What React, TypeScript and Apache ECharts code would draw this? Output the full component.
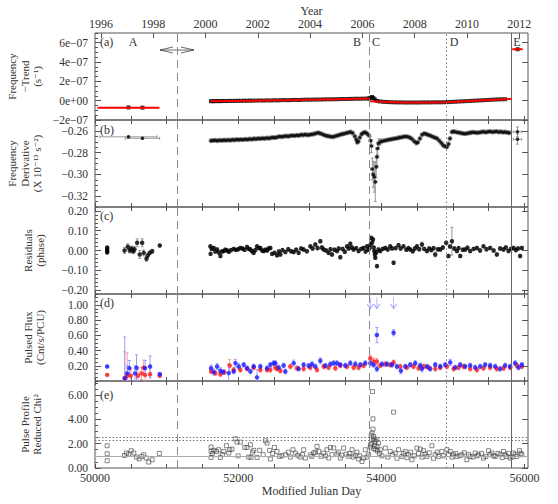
import React, { useEffect, useRef } from 'react';
import * as echarts from 'echarts';

// ---------- axis values ----------
const MJD_MIN = 50000;
const MJD_MAX = 56050;
const X_LABELS = [50000, 52000, 54000, 56000];
const YEAR_LABELS = [1996, 1998, 2000, 2002, 2004, 2006, 2008, 2010, 2012];

// vertical reference lines (MJD)
const VLINE_DASHED = [51152, 53838];
const VLINE_DOTTED = [54913];
const VLINE_SOLID = [55821];

// ---------- panel (a): frequency - trend (units 1e-7 s^-1) [mjd, value, xerr] ----------
const A_PTS = [
  [50468, -0.70, 400], [50663, -0.72, 240],
  [51620, -0.05, 15], [51650, -0.06, 15], [51680, -0.05, 15], [51710, -0.04, 15], [51740, -0.05, 15],
  [51770, -0.04, 15], [51800, -0.03, 15], [51840, -0.04, 15], [51880, -0.02, 15], [51920, -0.03, 15],
  [51960, -0.02, 15], [52000, -0.01, 15], [52040, -0.02, 15], [52080, 0.0, 15], [52120, -0.01, 15],
  [52160, 0.01, 15], [52200, 0.0, 15], [52250, 0.01, 15], [52300, 0.02, 15], [52350, 0.01, 15],
  [52400, 0.03, 15], [52450, 0.02, 15], [52500, 0.04, 15], [52550, 0.03, 15], [52600, 0.05, 15],
  [52650, 0.06, 15], [52700, 0.05, 15], [52750, 0.07, 15], [52800, 0.08, 15], [52850, 0.07, 15],
  [52900, 0.09, 15], [52950, 0.10, 15], [53000, 0.10, 15], [53050, 0.11, 15], [53100, 0.12, 15],
  [53150, 0.12, 15], [53200, 0.13, 15], [53250, 0.14, 15], [53300, 0.14, 15], [53350, 0.15, 15],
  [53400, 0.16, 15], [53450, 0.17, 15], [53500, 0.17, 15], [53550, 0.18, 15], [53600, 0.19, 15],
  [53650, 0.20, 15], [53700, 0.20, 15], [53750, 0.21, 15], [53800, 0.22, 15], [53830, 0.22, 15],
  [53850, 0.30, 10], [53870, 0.38, 10], [53890, 0.28, 10], [53910, 0.12, 10], [53940, -0.02, 10],
  [53980, -0.08, 15], [54030, -0.12, 15], [54080, -0.14, 15], [54130, -0.16, 15], [54180, -0.17, 15],
  [54230, -0.18, 15], [54280, -0.18, 15], [54330, -0.19, 15], [54380, -0.19, 15], [54430, -0.19, 15],
  [54480, -0.19, 15], [54530, -0.19, 15], [54580, -0.18, 15], [54630, -0.18, 15], [54680, -0.18, 15],
  [54730, -0.17, 15], [54780, -0.17, 15], [54830, -0.17, 15], [54880, -0.16, 15], [54930, -0.15, 15],
  [54980, -0.13, 15], [55030, -0.11, 15], [55080, -0.09, 15], [55130, -0.07, 15], [55180, -0.05, 15],
  [55230, -0.03, 15], [55280, -0.01, 15], [55330, 0.01, 15], [55380, 0.03, 15], [55430, 0.05, 15],
  [55480, 0.07, 15], [55530, 0.09, 15], [55580, 0.11, 15], [55630, 0.13, 15], [55680, 0.14, 15],
  [55730, 0.15, 15],
  [55905, 5.32, 60],
];
const A_MODEL = [
  [[50035, -0.72], [50900, -0.72]],
  [[51612, -0.06], [52200, 0.0], [52800, 0.07], [53400, 0.15], [53836, 0.22]],
  [[53845, -0.06], [54000, -0.12], [54300, -0.18], [54700, -0.18], [54913, -0.16], [55300, 0.0], [55816, 0.18]],
  [[55830, 5.32], [55975, 5.32]],
];

// ---------- panel (b): frequency derivative (1e-13 s^-2) [mjd, value, yerr, xerr] ----------
const B_PTS = [
  [50468, -0.2655, 0.0008, 400], [50663, -0.2668, 0.0008, 240],
  [51620, -0.2690], [51650, -0.2688], [51680, -0.2687], [51710, -0.2690], [51740, -0.2686], [51770, -0.2688],
  [51800, -0.2685], [51830, -0.2687], [51860, -0.2684], [51890, -0.2686], [51920, -0.2682], [51950, -0.2684],
  [51980, -0.2680], [52010, -0.2682], [52040, -0.2679], [52070, -0.2681], [52100, -0.2677], [52130, -0.2679],
  [52160, -0.2675], [52190, -0.2677], [52220, -0.2672], [52250, -0.2674], [52280, -0.2670], [52310, -0.2672],
  [52340, -0.2668], [52370, -0.2670], [52400, -0.2666], [52430, -0.2668], [52460, -0.2663], [52490, -0.2660],
  [52520, -0.2662], [52550, -0.2656], [52580, -0.2652], [52610, -0.2655], [52640, -0.2650], [52670, -0.2648],
  [52700, -0.2650], [52730, -0.2645], [52760, -0.2642], [52790, -0.2645], [52820, -0.2640], [52850, -0.2642],
  [52880, -0.2636], [52910, -0.2638], [52940, -0.2634], [52970, -0.2638], [53000, -0.2635], [53030, -0.2632],
  [53060, -0.2628], [53090, -0.2622], [53120, -0.2618], [53150, -0.2624], [53180, -0.2632], [53210, -0.2640],
  [53240, -0.2646], [53270, -0.2650], [53300, -0.2654], [53330, -0.2655], [53360, -0.2648], [53390, -0.2642],
  [53420, -0.2636], [53450, -0.2630], [53480, -0.2626], [53510, -0.2620], [53540, -0.2615], [53570, -0.2610],
  [53600, -0.2620], [53630, -0.2650], [53650, -0.2680], [53665, -0.2705], [53680, -0.2695], [53700, -0.2660],
  [53725, -0.2630], [53750, -0.2618], [53775, -0.2612], [53800, -0.2625], [53825, -0.2640],
  [53850, -0.2690, 0.004], [53862, -0.2740, 0.006], [53875, -0.2950, 0.010], [53888, -0.3000, 0.012],
  [53902, -0.3023, 0.014], [53916, -0.3069, 0.018], [53930, -0.2931, 0.010], [53940, -0.2839, 0.008],
  [53948, -0.2762, 0.006], [53962, -0.2716, 0.004], [53986, -0.2701, 0.003],
  [54010, -0.2695], [54040, -0.2690], [54070, -0.2686], [54100, -0.2682], [54130, -0.2678], [54160, -0.2674],
  [54190, -0.2670], [54220, -0.2667], [54250, -0.2662], [54280, -0.2658], [54310, -0.2655], [54340, -0.2652],
  [54370, -0.2655], [54400, -0.2662], [54430, -0.2675], [54460, -0.2695], [54490, -0.2712], [54510, -0.2705],
  [54540, -0.2670], [54570, -0.2635], [54600, -0.2625], [54630, -0.2630], [54660, -0.2638], [54690, -0.2645],
  [54720, -0.2655], [54750, -0.2662], [54780, -0.2670], [54810, -0.2690], [54840, -0.2712], [54865, -0.2732],
  [54890, -0.2742], [54917, -0.2747], [54940, -0.2720], [54960, -0.2670], [54987, -0.2610], [55010, -0.2605],
  [55040, -0.2610], [55070, -0.2614], [55100, -0.2618], [55130, -0.2622], [55160, -0.2626], [55190, -0.2624],
  [55220, -0.2620], [55250, -0.2616], [55280, -0.2612], [55310, -0.2614], [55340, -0.2618], [55370, -0.2614],
  [55400, -0.2610], [55430, -0.2608], [55460, -0.2612], [55490, -0.2608], [55520, -0.2605], [55550, -0.2610],
  [55580, -0.2608], [55610, -0.2605], [55640, -0.2610], [55670, -0.2608], [55700, -0.2612], [55730, -0.2610],
  [55760, -0.2615], [55790, -0.2618],
  [55903, -0.2609, 0.0045, 60], [55903, -0.2677, 0.0045, 60],
];
const B_DEFAULT_YERR = 0.0018;
const B_DEFAULT_XERR = 25;

// ---------- panel (c): residuals (phase) [mjd, value, err] ----------
const C_PTS = [
  [50170, 0.015, 0.004], [50170, 0.006, 0.004], [50170, -0.003, 0.004], [50170, -0.010, 0.004],
  [50412, 0.000, 0.015], [50458, 0.019, 0.015], [50486, 0.000, 0.012], [50510, 0.010, 0.012],
  [50533, -0.004, 0.012], [50551, 0.006, 0.015], [50589, 0.039, 0.02], [50625, -0.020, 0.02],
  [50659, 0.039, 0.02], [50681, -0.012, 0.015], [50719, -0.042, 0.012], [50737, -0.025, 0.012],
  [50765, -0.012, 0.01], [50799, -0.004, 0.01], [50905, 0.025, 0.006],
  [51612, 0.021], [51615, -0.017], [51630, 0.008], [51659, 0.013], [51680, -0.005], [51706, 0.005],
  [51730, -0.010], [51752, -0.028], [51775, -0.005], [51798, -0.003], [51820, 0.004], [51846, 0.000],
  [51870, -0.006], [51900, 0.002], [51938, 0.008], [51970, 0.003], [52000, 0.006], [52031, 0.013],
  [52060, 0.010], [52090, 0.004], [52125, 0.018], [52150, 0.008], [52171, 0.005], [52195, -0.004],
  [52217, -0.012], [52240, 0.002], [52264, 0.021], [52290, 0.012], [52310, 0.013], [52335, 0.000],
  [52357, -0.003], [52380, 0.004], [52404, 0.000], [52425, 0.010], [52450, 0.013], [52474, -0.017],
  [52510, -0.012], [52544, -0.024], [52570, -0.005], [52590, -0.020], [52620, 0.002], [52660, -0.008],
  [52700, 0.006], [52740, -0.004], [52776, -0.008], [52810, 0.004], [52845, -0.012], [52880, 0.010],
  [52915, 0.005], [52960, -0.004], [53009, 0.021], [53040, 0.010], [53078, 0.030], [53110, 0.012],
  [53148, 0.047], [53170, 0.015], [53194, 0.005], [53230, 0.000], [53264, -0.012], [53290, 0.006],
  [53311, -0.020], [53345, 0.004], [53381, -0.003], [53405, 0.010], [53427, -0.034], [53460, 0.008],
  [53490, -0.006], [53521, 0.021], [53545, 0.010], [53567, 0.034], [53590, 0.015], [53613, 0.005],
  [53650, 0.012], [53683, -0.003], [53720, 0.008], [53753, 0.013], [53780, -0.005], [53800, 0.021],
  [53820, 0.004], [53836, 0.013], [53850, 0.030], [53860, 0.064], [53872, 0.040], [53884, 0.056],
  [53895, 0.015], [53902, -0.003], [53910, -0.020, 0.02], [53916, -0.037], [53930, -0.010], [53940, -0.079],
  [53960, 0.005], [53986, -0.003], [54020, 0.008], [54056, 0.013], [54090, 0.005], [54125, 0.021],
  [54150, 0.010], [54172, -0.062], [54200, 0.012], [54241, 0.027], [54270, 0.010], [54311, 0.021],
  [54350, 0.004], [54380, 0.012], [54405, 0.005], [54440, -0.004], [54470, 0.010], [54498, 0.021],
  [54530, 0.006], [54568, 0.030, 0.012], [54600, 0.008], [54638, -0.003], [54670, 0.010], [54700, 0.002],
  [54730, 0.012], [54754, -0.020, 0.012], [54790, 0.006], [54823, 0.005], [54860, 0.015], [54907, 0.039],
  [54939, -0.028], [54960, 0.020], [54987, 0.047, 0.07], [55020, 0.010], [55057, -0.003], [55080, 0.012],
  [55103, -0.028], [55140, 0.004], [55172, 0.005], [55205, 0.014], [55242, -0.003], [55290, 0.008],
  [55336, 0.013], [55380, 0.000], [55428, 0.021], [55470, 0.006], [55521, 0.013], [55570, 0.000],
  [55615, -0.020], [55660, 0.010], [55707, 0.005], [55740, 0.015], [55777, -0.003], [55810, 0.008],
  [55847, 0.013], [55880, 0.002], [55910, 0.010], [55940, -0.028], [55964, 0.013],
];
const C_DEFAULT_ERR = 0.008;

// ---------- panel (d): pulsed flux [mjd, value, err] ----------
const D_BLUE = [
  [50170, 0.19, 0.01], [50416, 0.04, 0.54], [50450, 0.10, 0.10], [50480, 0.17, 0.10], [50560, 0.10, 0.10],
  [50580, 0.175, 0.17], [50700, 0.17, 0.10], [50770, 0.19, 0.14], [50905, 0.09, 0.02],
  [51622, 0.169, 0.04], [51659, 0.117, 0.04], [51706, 0.191, 0.04], [51752, 0.134, 0.04], [51790, 0.117, 0.03],
  [51868, 0.104, 0.12], [51938, 0.126, 0.03], [51962, 0.235, 0.05], [52008, 0.191, 0.04], [52078, 0.213, 0.03],
  [52125, 0.169, 0.03], [52171, 0.126, 0.03], [52217, 0.191, 0.03], [52264, 0.048, 0.10], [52310, 0.191, 0.03],
  [52404, 0.169, 0.03], [52450, 0.213, 0.03], [52497, 0.235, 0.03], [52520, 0.235, 0.03], [52566, 0.178, 0.03],
  [52636, 0.204, 0.03], [52659, 0.125, 0.03], [52776, 0.235, 0.04], [52846, 0.16, 0.03], [52915, 0.213, 0.03],
  [52985, 0.20, 0.03], [53032, 0.222, 0.03], [53078, 0.191, 0.03], [53148, 0.266, 0.04], [53218, 0.20, 0.03],
  [53288, 0.222, 0.03], [53334, 0.235, 0.03], [53381, 0.235, 0.03], [53427, 0.213, 0.03], [53497, 0.204, 0.03],
  [53567, 0.235, 0.03], [53637, 0.222, 0.03], [53707, 0.213, 0.03], [53776, 0.235, 0.03], [53846, 0.235, 0.04],
  [53893, 0.213, 0.03], [53939, 0.16, 0.04], [53939, 0.605, 0.10], [54009, 0.222, 0.03], [54079, 0.222, 0.03],
  [54149, 0.213, 0.03], [54172, 0.635, 0.04], [54219, 0.191, 0.03], [54274, 0.134, 0.04], [54335, 0.191, 0.03],
  [54405, 0.213, 0.03], [54474, 0.235, 0.03], [54544, 0.204, 0.03], [54568, 0.16, 0.04], [54637, 0.191, 0.03],
  [54684, 0.16, 0.03], [54754, 0.213, 0.03], [54824, 0.191, 0.03], [54893, 0.213, 0.03], [54963, 0.245, 0.04],
  [55033, 0.178, 0.03], [55103, 0.213, 0.03], [55173, 0.191, 0.03], [55242, 0.204, 0.03], [55312, 0.178, 0.03],
  [55382, 0.191, 0.03], [55452, 0.213, 0.03], [55521, 0.204, 0.03], [55592, 0.191, 0.03], [55661, 0.16, 0.03],
  [55731, 0.204, 0.03], [55801, 0.191, 0.03], [55870, 0.235, 0.03], [55917, 0.178, 0.03], [55964, 0.213, 0.03],
];
const D_RED = [
  [50170, 0.08, 0.01], [50416, 0.035, 0.35], [50450, 0.07, 0.30], [50500, 0.07, 0.10], [50600, 0.07, 0.10],
  [50650, 0.10, 0.08], [50680, 0.175, 0.10], [50700, 0.08, 0.10], [50770, 0.09, 0.10], [50905, 0.07, 0.02],
  [51622, 0.126, 0.03], [51682, 0.104, 0.03], [51752, 0.09, 0.03], [51808, 0.117, 0.03], [51882, 0.204, 0.08],
  [51938, 0.147, 0.03], [52031, 0.147, 0.03], [52125, 0.16, 0.03], [52217, 0.178, 0.03], [52310, 0.147, 0.03],
  [52404, 0.147, 0.03], [52450, 0.147, 0.03], [52520, 0.178, 0.03], [52544, 0.16, 0.03], [52590, 0.134, 0.03],
  [52729, 0.191, 0.03], [52822, 0.169, 0.03], [52915, 0.16, 0.03], [53008, 0.178, 0.03], [53102, 0.147, 0.03],
  [53195, 0.191, 0.03], [53264, 0.178, 0.03], [53358, 0.169, 0.03], [53427, 0.204, 0.03], [53520, 0.191, 0.03],
  [53614, 0.178, 0.03], [53683, 0.178, 0.03], [53753, 0.204, 0.03], [53846, 0.30, 0.04], [53893, 0.257, 0.04],
  [53939, 0.257, 0.04], [53986, 0.204, 0.03], [54056, 0.222, 0.03], [54125, 0.213, 0.03], [54172, 0.245, 0.03],
  [54265, 0.191, 0.03], [54358, 0.178, 0.03], [54451, 0.191, 0.03], [54521, 0.169, 0.03], [54591, 0.191, 0.03],
  [54661, 0.178, 0.03], [54754, 0.16, 0.03], [54824, 0.178, 0.03], [54917, 0.191, 0.03], [55010, 0.16, 0.03],
  [55080, 0.178, 0.03], [55149, 0.191, 0.03], [55242, 0.16, 0.03], [55336, 0.147, 0.03], [55429, 0.169, 0.03],
  [55521, 0.178, 0.03], [55615, 0.16, 0.03], [55708, 0.169, 0.03], [55801, 0.178, 0.03], [55894, 0.204, 0.03],
  [55964, 0.191, 0.03],
];
const D_LIMITS = [[53846, 1.0], [53939, 1.0], [54172, 1.0]];

// ---------- panel (e): pulse profile reduced chi^2 [mjd, value] ----------
const E_PTS = [
  [50170, 1.83], [50170, 1.17], [50170, 0.6], [50412, 1.03], [50440, 1.23], [50472, 1.15], [50505, 1.42],
  [50542, 1.23], [50579, 0.9], [50617, 0.76], [50653, 0.95], [50681, 1.09], [50715, 0.82], [50751, 0.49],
  [50799, 0.68], [50900, 1.2],
  [51622, 1.72], [51622, 1.36], [51622, 0.87], [51640, 1.2], [51659, 1.45], [51696, 1.36], [51729, 1.5],
  [51752, 0.87], [51780, 1.1], [51799, 1.36], [51836, 1.83], [51869, 1.23], [51883, 1.5], [51915, 1.55],
  [51962, 2.40], [51985, 2.13], [52000, 1.0], [52031, 2.13], [52092, 1.69], [52125, 1.69], [52148, 0.9],
  [52171, 1.91], [52180, 0.87], [52200, 1.3], [52218, 1.45], [52264, 0.87], [52301, 1.45], [52350, 1.1],
  [52381, 2.24], [52404, 2.05], [52441, 1.45], [52450, 0.74], [52480, 1.2], [52506, 1.69], [52543, 1.36],
  [52580, 0.95], [52613, 1.01], [52660, 1.09], [52700, 1.3], [52730, 0.90], [52767, 1.5], [52799, 1.23],
  [52832, 1.04], [52869, 0.90], [52900, 1.1], [52916, 1.5], [52939, 0.82], [53009, 1.09], [53030, 0.95],
  [53055, 1.23], [53080, 1.3], [53102, 1.77], [53125, 1.36], [53158, 0.96], [53195, 1.23], [53220, 1.0],
  [53242, 1.5], [53265, 0.82], [53288, 1.69], [53310, 1.1], [53335, 1.64], [53381, 1.14], [53400, 1.3],
  [53428, 0.82], [53450, 1.05], [53474, 1.64], [53507, 1.14], [53544, 0.96], [53560, 1.2], [53591, 1.5],
  [53610, 0.9], [53637, 1.04], [53660, 1.3], [53684, 0.74], [53700, 1.0], [53730, 0.54], [53754, 0.82],
  [53777, 1.5], [53800, 0.9], [53823, 1.09],
  [53846, 1.72], [53850, 1.9], [53860, 2.7], [53866, 2.0], [53870, 2.87], [53878, 6.28], [53884, 4.04],
  [53884, 3.2], [53888, 2.3], [53892, 2.59], [53896, 1.6], [53902, 2.4], [53908, 1.8], [53916, 2.18],
  [53922, 1.5], [53930, 2.35], [53940, 1.77], [53950, 1.4], [53962, 2.05], [53975, 1.2], [54172, 4.59],
  [53986, 1.5], [54010, 1.0], [54056, 1.64], [54090, 0.9], [54125, 1.36], [54160, 1.1], [54195, 1.23],
  [54220, 0.8], [54242, 1.5], [54288, 0.95], [54310, 1.2], [54335, 1.36], [54360, 0.85], [54381, 1.09],
  [54410, 1.3], [54428, 0.68], [54460, 1.0], [54498, 1.64], [54520, 1.2], [54544, 1.55], [54570, 0.9],
  [54591, 1.42], [54610, 1.15], [54637, 0.95], [54670, 1.25], [54707, 1.83], [54730, 0.8], [54754, 1.09],
  [54780, 1.3], [54800, 0.95], [54847, 1.36], [54870, 1.0], [54917, 1.5], [54940, 1.1], [54963, 1.36],
  [54990, 0.9], [55010, 1.09], [55040, 1.2], [55056, 0.95], [55100, 1.0], [55126, 1.09], [55160, 1.25],
  [55196, 0.68], [55220, 1.1], [55242, 0.95], [55280, 0.9], [55312, 1.23], [55340, 1.0], [55359, 1.09],
  [55400, 1.2], [55429, 0.82], [55460, 0.95], [55498, 1.42], [55520, 1.1], [55545, 1.23], [55570, 1.0],
  [55592, 0.95], [55630, 1.2], [55661, 1.09], [55690, 0.85], [55708, 1.36], [55730, 1.1], [55754, 0.95],
  [55780, 1.2], [55801, 0.82], [55830, 0.9], [55847, 1.23], [55870, 1.1], [55894, 0.95], [55931, 1.42],
  [55950, 1.2], [55964, 1.09],
];
const E_HLINE_SOLID = [1.0];
const E_HLINE_DOTTED = [2.25, 2.55];

// ---------- layout / style ----------
const FONT = '"Liberation Serif", "DejaVu Serif", serif';
const TXT = '#333';
const AX = '#555';
const GRID_TOP = [33, 120, 207, 294, 381];
const GRID_H = 87;

const minus = (s: string) => s.replace('-', '\u2212');
const intFmt = (v: number) => String(Math.round(v));

const PANELS = [
  { min: -2, max: 7, major: [-2, 0, 2, 4, 6], minorStep: 0.5,
    fmt: (v: number) => (Math.abs(v) < 1e-9 ? '0e+00' : (v < 0 ? '\u2212' : '') + Math.abs(Math.round(v)) + 'e\u221207') },
  { min: -0.33, max: -0.25, major: [-0.32, -0.30, -0.28, -0.26], minorStep: 0.005, fmt: (v: number) => minus(v.toFixed(2)) },
  { min: -0.22, max: 0.22, major: [-0.2, -0.1, 0, 0.1, 0.2], minorStep: 0.02, fmt: (v: number) => minus(v.toFixed(2)) },
  { min: 0, max: 1.145, major: [0.2, 0.4, 0.6, 0.8, 1.0], minorStep: 0.05, fmt: (v: number) => v.toFixed(2) },
  { min: 0, max: 7.15, major: [0, 2, 4, 6], minorStep: 0.5, fmt: (v: number) => v.toFixed(2) },
];

function stepValues(min: number, max: number, step: number) {
  const out: number[] = [];
  for (let k = Math.ceil(min / step - 1e-9); k <= Math.floor(max / step + 1e-9); k++) out.push(+(k * step).toFixed(6));
  return out;
}

function errSeries(data: number[][], gi: number, color: string, cap: number) {
  return {
    type: 'custom', xAxisIndex: gi, yAxisIndex: gi, clip: true, silent: true, z: 2,
    data, encode: { x: 0, y: 1 },
    renderItem: (_p: any, api: any) => {
      const x = api.value(0), y = api.value(1), ye = api.value(2), xe = api.value(3);
      const c = api.coord([x, y]);
      const ch: any[] = [];
      const st = { stroke: color, lineWidth: 1 };
      if (ye > 0) {
        const t = api.coord([x, y + ye])[1], b = api.coord([x, y - ye])[1];
        ch.push({ type: 'line', shape: { x1: c[0], y1: t, x2: c[0], y2: b }, style: st });
        if (cap > 0) {
          ch.push({ type: 'line', shape: { x1: c[0] - cap, y1: t, x2: c[0] + cap, y2: t }, style: st });
          ch.push({ type: 'line', shape: { x1: c[0] - cap, y1: b, x2: c[0] + cap, y2: b }, style: st });
        }
      }
      if (xe > 0) {
        const l = api.coord([x - xe, y])[0], r = api.coord([x + xe, y])[0];
        ch.push({ type: 'line', shape: { x1: l, y1: c[1], x2: r, y2: c[1] }, style: st });
        if (cap > 0) {
          ch.push({ type: 'line', shape: { x1: l, y1: c[1] - cap, x2: l, y2: c[1] + cap }, style: st });
          ch.push({ type: 'line', shape: { x1: r, y1: c[1] - cap, x2: r, y2: c[1] + cap }, style: st });
        }
      }
      return { type: 'group', children: ch };
    },
  };
}

function vLineData() {
  return [
    ...VLINE_DASHED.map((v) => ({ xAxis: v, lineStyle: { type: [8, 5], color: '#888', width: 1 } })),
    ...VLINE_DOTTED.map((v) => ({ xAxis: v, lineStyle: { type: [1.5, 2.5], color: '#777', width: 1 } })),
    ...VLINE_SOLID.map((v) => ({ xAxis: v, lineStyle: { type: 'solid', color: '#666', width: 1 } })),
  ];
}
function vLines() {
  return { symbol: ['none', 'none'], silent: true, label: { show: false }, data: vLineData() };
}

function buildOption() {
  const yearOf = (mjd: number) => 2000 + (mjd - 51544.5) / 365.25;
  const xTicks = stepValues(MJD_MIN, MJD_MAX, 500);
  const lbl = { fontFamily: FONT, fontSize: 12, color: TXT };
  const ylbl = { fontFamily: FONT, fontSize: 11.5, color: TXT };

  const grid = GRID_TOP.map((t) => ({ left: 95, right: 30, top: t, height: GRID_H, show: true, borderColor: AX, borderWidth: 1 }));

  const xAxis: any[] = [];
  for (let i = 0; i < 5; i++) {
    xAxis.push({
      gridIndex: i, type: 'value', position: 'bottom', min: MJD_MIN, max: MJD_MAX,
      axisLine: { show: false, onZero: false }, splitLine: { show: false },
      axisTick: { show: true, inside: true, length: 4, customValues: xTicks, lineStyle: { color: AX } },
      axisLabel: { show: i === 4, customValues: X_LABELS, margin: 4, formatter: intFmt, ...lbl },
      name: i === 4 ? 'Modified Julian Day' : '', nameLocation: 'middle', nameGap: 17,
      nameTextStyle: { ...lbl },
    });
  }
  for (let i = 0; i < 5; i++) {
    xAxis.push({
      gridIndex: i, type: 'value', position: 'top', min: MJD_MIN, max: MJD_MAX,
      axisLine: { show: false, onZero: false }, splitLine: { show: false },
      axisTick: { show: i !== 0, inside: true, length: 4, customValues: xTicks, lineStyle: { color: AX } },
      axisLabel: { show: false },
    });
  }
  xAxis.push({
    gridIndex: 0, type: 'value', position: 'top', min: yearOf(MJD_MIN), max: yearOf(MJD_MAX),
    axisLine: { show: false, onZero: false }, splitLine: { show: false },
    axisTick: { show: true, inside: true, length: 5, customValues: YEAR_LABELS, lineStyle: { color: AX } },
    axisLabel: { show: true, customValues: YEAR_LABELS, margin: 3, formatter: intFmt, ...lbl },
    name: 'Year', nameLocation: 'middle', nameGap: 16, nameTextStyle: { ...lbl },
  });

  const yAxis: any[] = [];
  PANELS.forEach((p, i) => {
    yAxis.push({
      gridIndex: i, type: 'value', position: 'left', min: p.min, max: p.max,
      axisLine: { show: false, onZero: false }, splitLine: { show: false },
      axisTick: { show: true, inside: true, length: 6, customValues: p.major, lineStyle: { color: AX } },
      axisLabel: { show: true, customValues: p.major, margin: 7, formatter: p.fmt, ...ylbl },
    });
  });
  PANELS.forEach((p, i) => {
    yAxis.push({
      gridIndex: i, type: 'value', position: 'left', min: p.min, max: p.max,
      axisLine: { show: false, onZero: false }, splitLine: { show: false },
      axisTick: { show: true, inside: true, length: 3, customValues: stepValues(p.min, p.max, p.minorStep), lineStyle: { color: AX } },
      axisLabel: { show: false },
    });
  });
  PANELS.forEach((p, i) => {
    yAxis.push({
      gridIndex: i, type: 'value', position: 'right', min: p.min, max: p.max,
      axisLine: { show: false, onZero: false }, splitLine: { show: false },
      axisTick: { show: true, inside: true, length: 6, customValues: p.major, lineStyle: { color: AX } },
      axisLabel: { show: false },
    });
  });

  const series: any[] = [];
  // (a)
  series.push(errSeries(A_PTS.map((d) => [d[0], d[1], 0, d[2]]), 0, '#aaa', 0));
  series.push({
    type: 'scatter', xAxisIndex: 0, yAxisIndex: 0, symbol: 'rect', symbolSize: 4, z: 3,
    itemStyle: { color: '#000' }, data: A_PTS.map((d) => [d[0], d[1]]), markLine: vLines(),
  });
  A_MODEL.forEach((seg) => series.push({
    type: 'line', xAxisIndex: 0, yAxisIndex: 0, showSymbol: false, z: 4,
    lineStyle: { color: '#f00', width: 2 }, data: seg,
  }));
  // (b)
  series.push(errSeries(B_PTS.map((d) => [d[0], d[1], d[2] ?? B_DEFAULT_YERR, d[3] ?? B_DEFAULT_XERR]), 1, '#999', 1.5));
  series.push({
    type: 'scatter', xAxisIndex: 1, yAxisIndex: 1, symbol: 'circle', symbolSize: 3.5, z: 3,
    itemStyle: { color: '#000' }, data: B_PTS.map((d) => [d[0], d[1]]), markLine: vLines(),
  });
  // (c)
  series.push(errSeries(C_PTS.map((d) => [d[0], d[1], d[2] ?? C_DEFAULT_ERR, 0]), 2, '#999', 1.5));
  series.push({
    type: 'scatter', xAxisIndex: 2, yAxisIndex: 2, symbol: 'circle', symbolSize: 4.5, z: 3,
    itemStyle: { color: '#000' }, data: C_PTS.map((d) => [d[0], d[1]]), markLine: vLines(),
  });
  // (d)
  series.push(errSeries(D_RED.map((d) => [d[0], d[1], d[2], 0]), 3, '#ff9c9c', 1.5));
  series.push(errSeries(D_BLUE.map((d) => [d[0], d[1], d[2], 0]), 3, '#9c9cff', 1.5));
  series.push({
    type: 'scatter', xAxisIndex: 3, yAxisIndex: 3, symbol: 'circle', symbolSize: 4.5, z: 3,
    itemStyle: { color: '#ff1a1a' }, data: D_RED.map((d) => [d[0], d[1]]), markLine: vLines(),
  });
  series.push({
    type: 'scatter', xAxisIndex: 3, yAxisIndex: 3, symbol: 'circle', symbolSize: 4.5, z: 4,
    itemStyle: { color: '#1a1aff' }, data: D_BLUE.map((d) => [d[0], d[1]]),
  });
  series.push({
    type: 'scatter', xAxisIndex: 3, yAxisIndex: 3, z: 4,
    symbol: 'path://M5 0 L5 20 M1 12 L5 20 L9 12', symbolSize: [6, 11], symbolOffset: [0, -2],
    itemStyle: { color: 'none', borderColor: '#8c8cff', borderWidth: 1 }, data: D_LIMITS,
  });
  // (e)
  series.push({
    type: 'scatter', xAxisIndex: 4, yAxisIndex: 4, symbol: 'rect', symbolSize: 4, z: 3,
    itemStyle: { color: 'none', borderColor: '#444', borderWidth: 0.8 }, data: E_PTS,
    markLine: {
      symbol: ['none', 'none'], silent: true, label: { show: false },
      data: [
        ...vLineData(),
        ...E_HLINE_SOLID.map((v) => ({ yAxis: v, lineStyle: { type: 'solid', color: '#aaa', width: 1 } })),
        ...E_HLINE_DOTTED.map((v) => ({ yAxis: v, lineStyle: { type: [1.5, 2], color: '#777', width: 1 } })),
      ],
    },
  });

  const t = (text: string, x: number, y: number, size = 12, align = 'center', rot = 0) => ({
    type: 'text', x, y, rotation: rot, silent: true,
    style: { text, fontFamily: FONT, fontSize: size, fill: TXT, align, verticalAlign: 'middle' },
  });
  const R = Math.PI / 2;
  const graphic: any[] = [
    t('Frequency', 12, 76.5, 11, 'center', R), t('\u2212Trend', 25, 76.5, 11, 'center', R), t('(s\u207B\u00B9)', 37, 76.5, 11, 'center', R),
    t('Frequency', 12, 163.5, 11, 'center', R), t('Derivative', 25, 163.5, 11, 'center', R), t('(X 10\u207B\u00B9\u00B3 s\u207B\u00B2)', 37, 163.5, 11, 'center', R),
    t('Residuals', 28, 250.5, 11, 'center', R), t('(phase)', 40, 250.5, 11, 'center', R),
    t('Pulsed Flux', 28, 337.5, 11, 'center', R), t('(Cnt/s/PCU)', 40, 337.5, 11, 'center', R),
    t('Pulse Profile', 25, 424.5, 11, 'center', R), t('Reduced Chi\u00B2', 37, 424.5, 11, 'center', R),
    t('(a)', 100, 42, 12, 'left'), t('(b)', 100, 130, 12, 'left'), t('(c)', 100, 216, 12, 'left'),
    t('(d)', 100, 303, 12, 'left'), t('(e)', 100, 395, 12, 'left'),
    t('A', 133, 42), t('B', 357, 42), t('C', 376, 42), t('D', 454, 42), t('E', 517, 42),
    { type: 'line', silent: true, shape: { x1: 160, y1: 50, x2: 194, y2: 50 }, style: { stroke: '#444', lineWidth: 0.8 } },
    { type: 'polyline', silent: true, shape: { points: [[173, 47], [160, 50], [173, 53]] }, style: { stroke: '#444', lineWidth: 0.8, fill: 'none' } },
    { type: 'polyline', silent: true, shape: { points: [[181, 47], [194, 50], [181, 53]] }, style: { stroke: '#444', lineWidth: 0.8, fill: 'none' } },
  ];

  return { animation: false, backgroundColor: '#fff', grid, xAxis, yAxis, series, graphic };
}

export default function App() {
  const ref = useRef<HTMLDivElement>(null);
  useEffect(() => {
    document.body.style.margin = '0';
    const chart = echarts.init(ref.current!, undefined, { renderer: 'svg' });
    chart.setOption(buildOption() as any);
    return () => chart.dispose();
  }, []);
  return <div ref={ref} style={{ width: 558, height: 504 }} />;
}
